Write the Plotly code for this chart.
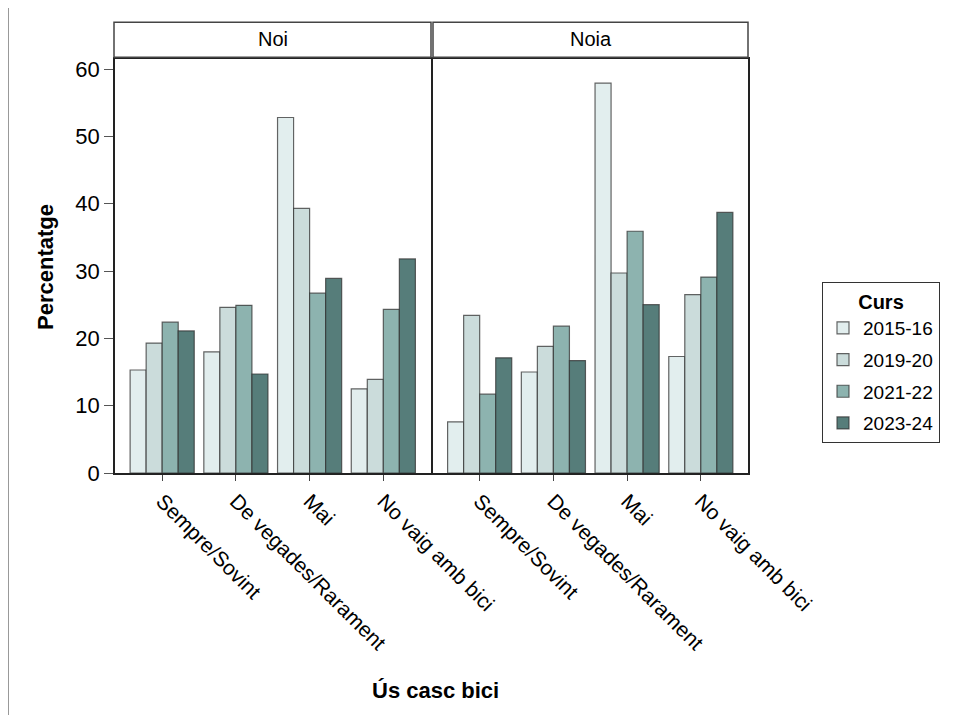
import plotly.graph_objects as go

categories = ["Sempre/Sovint", "De vegades/Rarament", "Mai", "No vaig amb bici"]
courses = ["2015-16", "2019-20", "2021-22", "2023-24"]
panels = ["Noi", "Noia"]

noi_values = {
    "2015-16": [15.3, 18.0, 52.8, 12.5],
    "2019-20": [19.3, 24.6, 39.3, 13.9],
    "2021-22": [22.4, 24.9, 26.7, 24.3],
    "2023-24": [21.1, 14.7, 28.9, 31.8],
}
noia_values = {
    "2015-16": [7.6, 15.0, 57.9, 17.3],
    "2019-20": [23.4, 18.8, 29.7, 26.5],
    "2021-22": [11.7, 21.8, 35.9, 29.1],
    "2023-24": [17.1, 16.7, 25.0, 38.7],
}
colors = ["#E2EEEE", "#CBDCDB", "#8DB3AF", "#567D7A"]

W, H = 954, 720
OFF = 8  # page body margin offset
FONT = "Liberation Sans, Arial, sans-serif"


def px_x(v):
    return (v - OFF) / W


def px_y(v):
    return 1 - (v - OFF) / H


fig = go.Figure()
for pi, (panel, vals) in enumerate([("Noi", noi_values), ("Noia", noia_values)]):
    xa = "x" if pi == 0 else "x2"
    ya = "y" if pi == 0 else "y2"
    for ci, c in enumerate(courses):
        fig.add_trace(go.Bar(
            x=categories, y=vals[c], name=c, legendgroup=c,
            showlegend=(pi == 0),
            marker=dict(color=colors[ci], line=dict(color="rgba(50,50,50,0.75)", width=1.2)),
            xaxis=xa, yaxis=ya,
        ))

ydom = [px_y(473), px_y(59.3)]
xdom1 = [px_x(115), px_x(430.5)]
xdom2 = [px_x(432.5), px_x(748)]

axis_common = dict(
    showgrid=False, zeroline=False, showline=True, mirror=True,
    linecolor="#222", linewidth=1.5,
)
xcommon = dict(axis_common, ticks="outside", ticklen=6, tickcolor="#444", tickwidth=1,
               tickangle=45, range=[-0.64, 3.64], type="category",
               tickfont=dict(family=FONT, size=21, color="#000"))
ycommon = dict(axis_common, range=[0, 61.44], domain=ydom)

fig.update_layout(
    width=W, height=H,
    margin=dict(l=0, r=0, t=0, b=0),
    paper_bgcolor="white", plot_bgcolor="white",
    barmode="group", bargap=0.13, bargroupgap=0,
    font=dict(family=FONT, color="#000"),
    xaxis=dict(xcommon, domain=xdom1, anchor="y", automargin=False),
    xaxis2=dict(xcommon, domain=xdom2, anchor="y2", automargin=False),
    yaxis=dict(ycommon, anchor="x", ticks="outside", ticklen=9, tickcolor="#555",
               tickwidth=1, tickvals=[0, 10, 20, 30, 40, 50, 60], automargin=False,
               tickfont=dict(family=FONT, size=22, color="#000")),
    yaxis2=dict(ycommon, anchor="x2", showticklabels=False, ticks="", automargin=False),
    legend=dict(
        x=px_x(822), y=px_y(282), xanchor="left", yanchor="top",
        bordercolor="#333", borderwidth=1, bgcolor="white",
        title=dict(text="<b>Curs</b>", side="top center", font=dict(family=FONT, size=20)),
        font=dict(family=FONT, size=19), tracegroupgap=4,
        itemclick=False,
    ),
)

shapes = []
annotations = []
for label, (x0, x1) in zip(panels, [(114, 431), (433, 748)]):
    shapes.append(dict(type="rect", xref="paper", yref="paper",
                       x0=px_x(x0), x1=px_x(x1), y0=px_y(57.3), y1=px_y(22.3),
                       line=dict(color="#444", width=1.5), fillcolor="white"))
    annotations.append(dict(text=label, xref="paper", yref="paper",
                            x=px_x((x0 + x1) / 2), y=px_y(39), showarrow=False,
                            xanchor="center", yanchor="middle",
                            font=dict(family=FONT, size=20, color="#000")))

shapes.append(dict(type="line", xref="paper", yref="paper",
                   x0=0, x1=0, y0=px_y(8), y1=px_y(715),
                   line=dict(color="#999", width=2)))

annotations.append(dict(text="<b>Percentatge</b>", xref="paper", yref="paper",
                        x=px_x(45), y=px_y(267), showarrow=False, textangle=-90,
                        xanchor="center", yanchor="middle",
                        font=dict(family=FONT, size=22, color="#000")))
annotations.append(dict(text="<b>Ús casc bici</b>", xref="paper", yref="paper",
                        x=px_x(435), y=px_y(690), showarrow=False,
                        xanchor="center", yanchor="middle",
                        font=dict(family=FONT, size=22, color="#000")))

fig.update_layout(shapes=shapes, annotations=annotations)

fig.write_html("out.html")
